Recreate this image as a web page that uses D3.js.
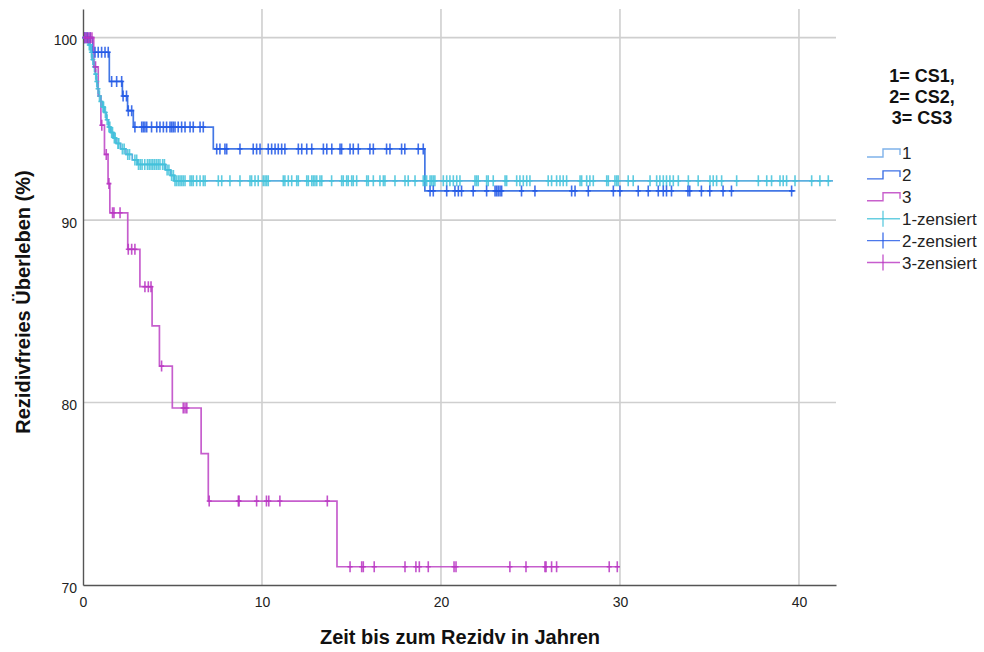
<!DOCTYPE html>
<html>
<head>
<meta charset="utf-8">
<script src="https://cdn.jsdelivr.net/npm/d3@7"></script>
<style>
  body { margin: 0; background: #fff; }
  svg { display: block; font-family: "Liberation Sans", Arial, sans-serif; }
</style>
</head>
<body>
<svg id="chart"></svg>
<script>
// Kaplan-Meier Stufen je Gruppe (Zeit in Jahren, Überleben in %)
const g1Times = [0, 0.3, 0.45, 0.5, 0.6, 0.68, 0.74, 0.8, 0.88, 0.98, 1.08, 1.2, 1.3, 1.42, 1.55, 1.7, 1.85, 2.1, 2.4, 2.75, 3.05, 4.6, 4.9, 5.1];
const g1Surv = [100, 99.6, 99.2, 98.8, 98.4, 98.0, 97.6, 97.2, 96.8, 96.5, 96.2, 95.9, 95.5, 95.1, 94.8, 94.5, 94.2, 93.9, 93.6, 93.3, 93.05, 92.75, 92.45, 92.15];
const g1End = 41.9;
const g1Censored = [0.1, 0.2, 0.35, 0.4, 0.47, 0.55, 0.64, 0.71, 0.77, 0.84, 0.92, 1.0, 1.12, 1.15, 1.25, 1.35, 1.45, 1.5, 1.6, 1.65, 1.75, 1.8, 1.95, 2.0, 2.2, 2.3, 2.5, 2.6, 2.9, 3.0, 3.1, 3.2, 3.3, 3.45, 3.6, 3.7, 3.8, 3.9, 4.0, 4.1, 4.2, 4.3, 4.45, 4.55, 4.7, 4.8, 4.95, 5.05,
  5.14, 5.23, 5.33, 5.42, 5.51, 5.6, 5.7, 5.98, 6.07, 6.16, 6.35, 6.54, 6.72, 6.82, 7.56, 7.75, 8.21, 8.77, 9.33, 9.42, 9.61, 9.79, 10.07, 10.17, 10.26, 10.35,
  11.19, 11.28, 11.47, 11.66, 11.94, 12.03, 12.5, 12.59, 12.78, 12.87, 12.96, 13.06, 13.24, 13.34, 13.89, 14.45, 14.54, 14.73, 14.82, 15.01, 15.1, 15.29,
  15.85, 15.94, 16.22, 16.59, 16.78, 16.87, 17.43, 17.99, 18.17, 18.55, 19.01, 19.11, 19.2, 19.39, 19.48, 19.57, 19.66, 20.13, 20.32, 20.5, 20.69, 20.88, 21.06,
  21.9, 21.99, 22.08, 22.55, 22.64, 22.92, 23.58, 23.67, 24.23, 24.41, 24.6, 24.79, 24.97, 25.99, 26.18, 26.46, 26.65, 26.83, 27.02, 27.77, 27.86, 28.14, 28.32, 28.51,
  29.26, 29.35, 29.72, 29.82, 29.9, 30.46, 30.74, 31.68, 32.05, 32.23, 32.42, 32.6, 32.79, 32.98, 33.26, 33.82, 34.37, 35.03, 35.21, 35.4, 35.68, 36.52,
  37.73, 38.2, 38.47, 38.94, 39.12, 39.31, 39.78, 40.71, 41.17, 41.64];

const g2Times = [0, 0.55, 1.47, 2.2, 2.49, 2.81, 7.28, 19.1];
const g2Surv = [100, 99.2, 97.6, 96.8, 96.0, 95.1, 93.9, 91.6];
const g2End = 39.8;
const g2Censored = [0.1, 0.25, 0.4, 0.67, 0.85, 1.04, 1.23, 1.41, 1.6, 1.88, 2.16, 2.24, 2.43, 2.53, 2.72,
  2.9, 3.28, 3.37, 3.46, 3.56, 3.83, 4.12, 4.3, 4.49, 4.67, 4.86, 4.95, 5.04, 5.14, 5.32, 5.51, 5.7, 5.98, 6.16, 6.54, 6.72,
  7.47, 7.65, 7.93, 8.03, 8.77, 9.51, 9.7, 9.89, 10.35, 10.54, 10.73, 10.91, 11.1, 11.28, 12.03, 12.22, 12.5, 12.78, 13.43, 13.62, 13.9,
  14.36, 14.45, 14.92, 15.1, 15.38, 16.03, 16.22, 16.96, 17.15, 17.8, 17.98, 18.73, 19.01,
  19.39, 19.57, 20.32, 20.78, 20.97, 21.15, 21.8, 22.55, 23.02, 23.11, 23.2, 23.3, 23.39, 24.5, 25.25, 27.3, 27.49, 28.23,
  29.63, 30.0, 31.02, 31.58, 32.14, 32.42, 32.6, 32.88, 33.8, 33.9, 34.55, 35.02, 35.76, 36.23, 39.59];

const g3Times = [0, 0.6, 0.85, 1.0, 1.2, 1.4, 1.5, 2.5, 3.18, 3.86, 4.27, 4.99, 6.6, 7.0, 14.19];
const g3Surv = [100, 98.4, 96.8, 95.2, 93.6, 92.0, 90.4, 88.4, 86.35, 84.2, 82.0, 79.7, 77.2, 74.6, 71.0];
const g3End = 30.0;
const g3Censored = [0.1, 0.2, 0.3, 0.4, 0.5, 0.7, 1.05, 1.3, 1.45, 1.65, 1.73, 2.07, 2.53, 2.72, 2.9, 3.46, 3.65, 3.8, 4.39,
  5.6, 5.7, 5.8, 7.05, 8.68, 8.72, 9.7, 10.25, 10.38, 11.0, 13.65,
  14.92, 15.57, 15.66, 16.27, 17.99, 18.6, 18.79, 19.29, 20.73, 20.84, 23.85, 24.75, 25.81, 25.87, 26.18, 26.46, 29.4, 29.85];

const xTicks = [0, 10, 20, 30, 40];
const yTicks = [70, 80, 90, 100];
const legendTitle = ["1= CS1,", "2= CS2,", "3= CS3"];
const legendLabels = ["1", "2", "3", "1-zensiert", "2-zensiert", "3-zensiert"];

const groups = [
  { times: g1Times, surv: g1Surv, end: g1End, cens: g1Censored, line: "#4aa6dc", key: "#7fb2ea", mark: "#42c2da" },
  { times: g2Times, surv: g2Surv, end: g2End, cens: g2Censored, line: "#2f68e2", key: "#3f72e6", mark: "#1f56e6" },
  { times: g3Times, surv: g3Surv, end: g3End, cens: g3Censored, line: "#c04cc8", key: "#c860cc", mark: "#b934c2" }
];

const W = 984, H = 652;
const plot = { left: 83, right: 836, top: 9, bottom: 585 };

const svg = d3.select("#chart").attr("width", W).attr("height", H);

const x = d3.scaleLinear().domain([0, 42.07]).range([plot.left, plot.right]);
const y = d3.scaleLinear().domain([70, 101.57]).range([plot.bottom, plot.top]);

// Gitter
svg.append("g")
  .selectAll("line")
  .data(xTicks.filter(d => d > 0))
  .join("line")
  .attr("x1", d => x(d)).attr("x2", d => x(d))
  .attr("y1", plot.top).attr("y2", plot.bottom)
  .attr("stroke", "#cfcfcf").attr("stroke-width", 1.6);

svg.append("g")
  .selectAll("line")
  .data(yTicks.filter(d => d > 70))
  .join("line")
  .attr("x1", plot.left).attr("x2", plot.right)
  .attr("y1", d => y(d)).attr("y2", d => y(d))
  .attr("stroke", "#cfcfcf").attr("stroke-width", 1.6);

// Achsen
svg.append("g")
  .attr("transform", `translate(0,${plot.bottom})`)
  .call(d3.axisBottom(x).tickValues(xTicks).tickSize(0).tickPadding(12))
  .call(g => g.select(".domain").attr("stroke", "#555").attr("stroke-width", 1.4))
  .call(g => g.selectAll("text").attr("font-size", 14).attr("fill", "#222").attr("font-family", "Liberation Sans, Arial"));

svg.append("g")
  .attr("transform", `translate(${plot.left},0)`)
  .call(d3.axisLeft(y).tickValues(yTicks).tickSize(0).tickPadding(6))
  .call(g => g.select(".domain").attr("stroke", "#555").attr("stroke-width", 1.4))
  .call(g => g.selectAll("text").attr("font-size", 14).attr("fill", "#222").attr("dy", "0.5em").attr("font-family", "Liberation Sans, Arial"));

// Kurven
const step = d3.line().x(d => x(d[0])).y(d => y(d[1])).curve(d3.curveStepAfter);
const survAt = (g, t) => {
  let s = g.surv[0];
  g.times.forEach((tt, i) => { if (tt <= t) s = g.surv[i]; });
  return s;
};

groups.forEach(g => {
  const pts = g.times.map((t, i) => [t, g.surv[i]]);
  pts.push([g.end, g.surv[g.surv.length - 1]]);
  svg.append("path")
    .attr("d", step(pts))
    .attr("fill", "none")
    .attr("stroke", g.line)
    .attr("stroke-width", 1.7)
    .attr("stroke-opacity", 0.9);
});

// zensierte Fälle als "+"
groups.forEach(g => {
  svg.append("g")
    .selectAll("path")
    .data(g.cens)
    .join("path")
    .attr("d", d => {
      const cx = x(d), cy = y(survAt(g, d));
      return `M${cx},${cy - 5.5}V${cy + 5.5}M${cx - 2.5},${cy}H${cx + 2.5}`;
    })
    .attr("fill", "none")
    .attr("stroke", g.mark)
    .attr("stroke-width", 1.6)
    .attr("stroke-opacity", 0.85);
});

// Achsentitel
svg.append("text")
  .attr("x", 460).attr("y", 644)
  .attr("text-anchor", "middle")
  .attr("font-size", 20).attr("font-weight", "bold").attr("fill", "#111")
  .text("Zeit bis zum Rezidv in Jahren");

svg.append("text")
  .attr("transform", "translate(30,302) rotate(-90)")
  .attr("text-anchor", "middle")
  .attr("font-size", 20).attr("font-weight", "bold").attr("fill", "#111")
  .text("Rezidivfreies Überleben (%)");

// Legende
const lg = svg.append("g");
legendTitle.forEach((t, i) => {
  lg.append("text")
    .attr("x", 922).attr("y", 82 + i * 21)
    .attr("text-anchor", "middle")
    .attr("font-size", 18).attr("font-weight", "bold").attr("fill", "#111")
    .text(t);
});

legendLabels.forEach((lab, i) => {
  const cy = 153 + i * 21.9;
  const g = groups[i % 3];
  if (i < 3) {
    lg.append("path")
      .attr("d", `M867,${cy + 4}H883V${cy - 4}H900V${cy + 2}`)
      .attr("fill", "none").attr("stroke", g.key).attr("stroke-width", 1.4);
  } else {
    lg.append("line").attr("x1", 867).attr("x2", 900).attr("y1", cy).attr("y2", cy)
      .attr("stroke", g.mark).attr("stroke-width", 1.4).attr("stroke-opacity", 0.8);
    lg.append("line").attr("x1", 883).attr("x2", 883).attr("y1", cy - 8).attr("y2", cy + 8)
      .attr("stroke", g.mark).attr("stroke-width", 1.4).attr("stroke-opacity", 0.8);
  }
  lg.append("text")
    .attr("x", 902).attr("y", cy + 6)
    .attr("font-size", 17).attr("fill", "#222")
    .text(lab);
});
</script>
</body>
</html>
